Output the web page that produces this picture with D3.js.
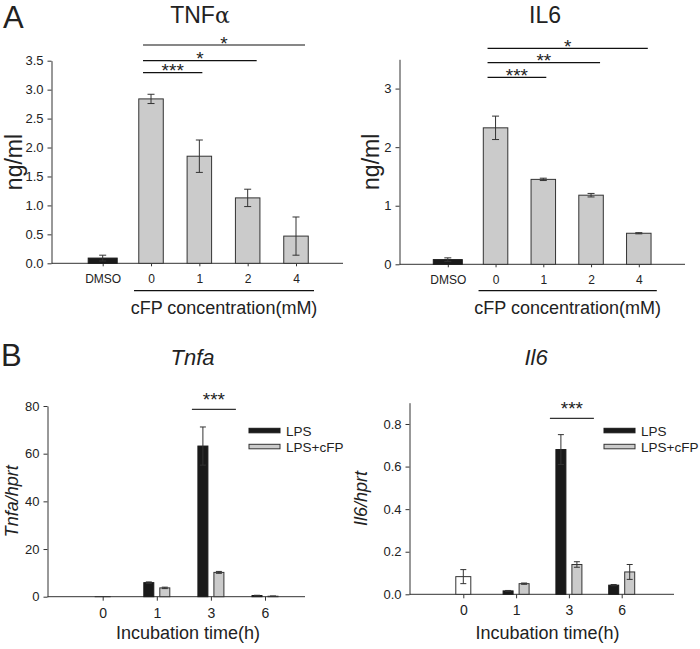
<!DOCTYPE html>
<html><head><meta charset="utf-8">
<script src="https://cdn.jsdelivr.net/npm/d3@7"></script>
<style>
body{margin:0;background:#fff}
svg{display:block}
text{font-family:"Liberation Sans",Arial,Helvetica,sans-serif;fill:#222}
</style>
</head><body>
<svg id="chart" width="700" height="649"></svg>
<script>
// ---------- DATA ----------
const doseCats = ["DMSO", "0", "1", "2", "4"];
const tnfMeans = [0.09, 2.84, 1.85, 1.13, 0.47];
const tnfErr   = [0.05, 0.08, 0.28, 0.15, 0.33];
const il6Means = [0.08, 2.33, 1.45, 1.18, 0.53];
const il6Err   = [0.03, 0.20, 0.02, 0.03, 0.01];
const tnfYTicks = [0, 0.5, 1, 1.5, 2, 2.5, 3, 3.5];
const il6YTicks = [0, 1, 2, 3];
const tnfSig = [["1", "***"], ["2", "*"], ["4", "*"]];
const il6Sig = [["1", "***"], ["2", "**"], ["4", "*"]];

const timeCats = ["0", "1", "3", "6"];
const seriesNames = ["LPS", "LPS+cFP"];
const tnfaCtrl    = [0.05, null, null, null];
const tnfaCtrlErr = [0, null, null, null];
const tnfaLps     = [null, 5.9, 63.2, 0.5];
const tnfaLpsErr  = [null, 0.3, 8.0, 0.1];
const tnfaCfp     = [null, 3.7, 10.2, 0.2];
const tnfaCfpErr  = [null, 0.3, 0.4, 0.1];
const il6Ctrl     = [0.083, null, null, null];
const il6CtrlErr  = [0.033, null, null, null];
const il6Lps      = [null, 0.016, 0.68, 0.043];
const il6LpsErr   = [null, 0.002, 0.07, 0.003];
const il6Cfp      = [null, 0.05, 0.14, 0.105];
const il6CfpErr   = [null, 0.003, 0.013, 0.035];
const tnfaYTicks = [0, 20, 40, 60, 80];
const il6qYTicks = [0, 0.2, 0.4, 0.6, 0.8];

// ---------- DRAW ----------
const svg = d3.select("#chart");
const AX = "#333";

function styleAxis(g) {
  g.selectAll("path,line").attr("stroke", AX).attr("stroke-width", 1);
  g.selectAll("text").attr("fill", "#222");
}

function errBar(g, cx, yTop, yBot, cap) {
  g.append("line").attr("x1", cx).attr("x2", cx).attr("y1", yTop).attr("y2", yBot)
    .attr("stroke", AX).attr("stroke-width", 1);
  [yTop, yBot].forEach(yy => g.append("line").attr("x1", cx - cap / 2).attr("x2", cx + cap / 2)
    .attr("y1", yy).attr("y2", yy).attr("stroke", AX).attr("stroke-width", 1));
}

// Panel A
function panelA(cfg) {
  const g = svg.append("g");
  const y = d3.scaleLinear().domain([0, 3.5]).range([cfg.yBase, cfg.yTop]);
  const x = d3.scalePoint().domain(doseCats).range([cfg.xFirst, cfg.xLast]);

  const ya = g.append("g").attr("transform", `translate(${cfg.axisX},0)`)
    .call(d3.axisLeft(y).tickValues(cfg.ticks).tickFormat(cfg.fmt).tickSize(4).tickSizeOuter(0).tickPadding(4));
  ya.selectAll("text").style("font-size", "13px");
  styleAxis(ya);

  const xa = g.append("g").attr("transform", `translate(0,${cfg.yBase})`)
    .call(d3.axisBottom(x).tickSize(3).tickSizeOuter(0).tickPadding(8));
  xa.select(".domain").attr("d", `M${cfg.axisX},0H${cfg.xEnd}`);
  xa.selectAll("text").style("font-size", "12px");
  styleAxis(xa);

  doseCats.forEach((c, i) => {
    const w = i === 0 ? 29 : 24.5;
    const v = cfg.means[i];
    g.append("rect").attr("x", x(c) - w / 2).attr("y", y(v))
      .attr("width", w).attr("height", y(0) - y(v))
      .attr("fill", i === 0 ? "#1a1a1a" : "#cbcbcb")
      .attr("stroke", i === 0 ? "#1a1a1a" : "#333").attr("stroke-width", 1);
  });
  doseCats.forEach((c, i) => {
    errBar(g, x(c), y(cfg.means[i] + cfg.errs[i]), y(cfg.means[i] - cfg.errs[i]), 7);
  });

  // significance brackets
  cfg.sig.forEach((s, k) => {
    const ly = cfg.sigY[k];
    const x1 = x("0") - 8, x2 = x(s[0]) + (s[0] === "1" ? 3 : 9);
    g.append("line").attr("x1", x1).attr("x2", x2).attr("y1", ly).attr("y2", ly)
      .attr("stroke", "#111").attr("stroke-width", 1.2);
    g.append("text").attr("x", (x1 + x2) / 2).attr("y", ly + 4.5)
      .attr("text-anchor", "middle").style("font-size", "19px").attr("fill", "#111").text(s[1]);
  });

  // group underline + label
  const u1 = x("0") - 17, u2 = x("4") + 18;
  g.append("line").attr("x1", u1).attr("x2", u2).attr("y1", 290.7).attr("y2", 290.7)
    .attr("stroke", "#111").attr("stroke-width", 1.2);
  g.append("text").attr("x", (u1 + u2) / 2).attr("y", 313.5).attr("text-anchor", "middle")
    .style("font-size", "18px").attr("fill", "#111").text("cFP concentration(mM)");

  // title
  const t = g.append("text").attr("x", cfg.titleX).attr("y", 23).attr("text-anchor", "middle")
    .style("font-size", "23px").attr("fill", "#111");
  t.append("tspan").text(cfg.title);
  if (cfg.greek) t.append("tspan").style("font-family", "'DejaVu Serif','Liberation Serif',serif").style("font-size", "22px").text(cfg.greek);

  // y label
  g.append("text").attr("transform", `translate(${cfg.ylabX},${(cfg.yBase + cfg.yTop) / 2}) rotate(-90)`)
    .attr("text-anchor", "middle").style("font-size", "23px").attr("fill", "#111").text("ng/ml");
}

panelA({means: tnfMeans, errs: tnfErr, ticks: tnfYTicks, fmt: d3.format(".1f"), sig: tnfSig,
  axisX: 51.5, yBase: 263.3, yTop: 60.7, xFirst: 102.7, xLast: 296, xEnd: 343,
  sigY: [72.7, 60.7, 45], title: "TNF", greek: "α", titleX: 200, ylabX: 22});
panelA({means: il6Means, errs: il6Err, ticks: il6YTicks, fmt: d3.format("d"), sig: il6Sig,
  axisX: 399.5, yBase: 264.3, yTop: 59.3, xFirst: 447.8, xLast: 638.8, xEnd: 685,
  sigY: [77.3, 62.7, 48.3], title: "IL6", greek: null, titleX: 545, ylabX: 379});

// Panel B
function panelB(cfg) {
  const g = svg.append("g");
  const y = d3.scaleLinear().domain(cfg.domain).range([cfg.yBase, cfg.yTop]);
  const x = d3.scalePoint().domain(timeCats).range([cfg.xFirst, cfg.xLast]);

  const ya = g.append("g").attr("transform", `translate(${cfg.axisX},0)`)
    .call(d3.axisLeft(y).tickValues(cfg.ticks).tickFormat(cfg.fmt).tickSize(4).tickSizeOuter(0).tickPadding(4));
  ya.selectAll("text").style("font-size", "13px");
  styleAxis(ya);

  const xa = g.append("g").attr("transform", `translate(0,${cfg.yBase})`)
    .call(d3.axisBottom(x).tickSize(4).tickSizeOuter(0).tickPadding(7));
  xa.select(".domain").attr("d", `M${cfg.axisX},0H${cfg.xEnd}`);
  xa.selectAll("text").style("font-size", "14px");
  styleAxis(xa);

  const groups = [
    {m: cfg.ctrl, e: cfg.ctrlErr, off: 0, w: 15, fill: "#ffffff", stroke: "#333"},
    {m: cfg.lps, e: cfg.lpsErr, off: -8, w: 10, fill: "#1a1a1a", stroke: "#1a1a1a"},
    {m: cfg.cfp, e: cfg.cfpErr, off: 8, w: 10, fill: "#cbcbcb", stroke: "#333"}
  ];
  groups.forEach(s => timeCats.forEach((c, i) => {
    const v = s.m[i];
    if (v == null) return;
    const cx = x(c) + s.off;
    g.append("rect").attr("x", cx - s.w / 2).attr("y", y(v)).attr("width", s.w)
      .attr("height", y(0) - y(v)).attr("fill", s.fill).attr("stroke", s.stroke).attr("stroke-width", 1);
  }));
  groups.forEach(s => timeCats.forEach((c, i) => {
    const v = s.m[i];
    if (v == null || !s.e[i]) return;
    errBar(g, x(c) + s.off, y(v + s.e[i]), y(Math.max(0, v - s.e[i])), 6);
  }));

  // significance at 3h
  const x1 = x("3") - 19, x2 = x("3") + 25;
  g.append("line").attr("x1", x1).attr("x2", x2).attr("y1", cfg.sigY).attr("y2", cfg.sigY)
    .attr("stroke", "#333").attr("stroke-width", 1.2);
  g.append("text").attr("x", (x1 + x2) / 2).attr("y", cfg.sigY - 3).attr("text-anchor", "middle")
    .style("font-size", "19px").attr("fill", "#111").text("***");

  // legend
  seriesNames.forEach((n, k) => {
    const ly = 428.3 + k * 16;
    g.append("rect").attr("x", cfg.legX).attr("y", ly).attr("width", 31).attr("height", 4.5)
      .attr("fill", k === 0 ? "#1a1a1a" : "#cbcbcb").attr("stroke", k === 0 ? "#1a1a1a" : "#333").attr("stroke-width", 1);
    g.append("text").attr("x", cfg.legX + 37).attr("y", ly + 7.5).style("font-size", "13.5px")
      .attr("fill", "#222").text(n);
  });

  // x label
  g.append("text").attr("x", cfg.xlabX).attr("y", 639).attr("text-anchor", "middle")
    .style("font-size", "18px").attr("fill", "#111").text("Incubation time(h)");
  // title
  g.append("text").attr("x", cfg.titleX).attr("y", 365).attr("text-anchor", "middle")
    .style("font-size", "22px").style("font-style", "italic").attr("fill", "#111").text(cfg.title);
  // y label
  g.append("text").attr("transform", `translate(${cfg.ylabX},${(cfg.yBase + cfg.yTop) / 2}) rotate(-90)`)
    .attr("text-anchor", "middle").style("font-size", "18px").style("font-style", "italic").attr("fill", "#111")
    .text(cfg.title + "/hprt");
}

panelB({domain: [0, 80], ticks: tnfaYTicks, fmt: d3.format("d"),
  ctrl: tnfaCtrl, ctrlErr: tnfaCtrlErr, lps: tnfaLps, lpsErr: tnfaLpsErr, cfp: tnfaCfp, cfpErr: tnfaCfpErr,
  axisX: 47.5, yBase: 596.7, yTop: 406, xFirst: 102.7, xLast: 265, xEnd: 305,
  sigY: 409.3, legX: 249, xlabX: 188, title: "Tnfa", titleX: 192.5, ylabX: 18});
panelB({domain: [0, 0.9], ticks: il6qYTicks, fmt: d3.format(".1f"),
  ctrl: il6Ctrl, ctrlErr: il6CtrlErr, lps: il6Lps, lpsErr: il6LpsErr, cfp: il6Cfp, cfpErr: il6CfpErr,
  axisX: 409.5, yBase: 594.3, yTop: 402.7, xFirst: 463.3, xLast: 621.7, xEnd: 674,
  sigY: 418.3, legX: 604, xlabX: 547.5, title: "Il6", titleX: 536, ylabX: 367});

// panel letters
svg.append("text").attr("x", 3).attr("y", 28).style("font-size", "31px").attr("fill", "#111").text("A");
svg.append("text").attr("x", 1).attr("y", 366).style("font-size", "31px").attr("fill", "#111").text("B");
</script>
</body></html>
